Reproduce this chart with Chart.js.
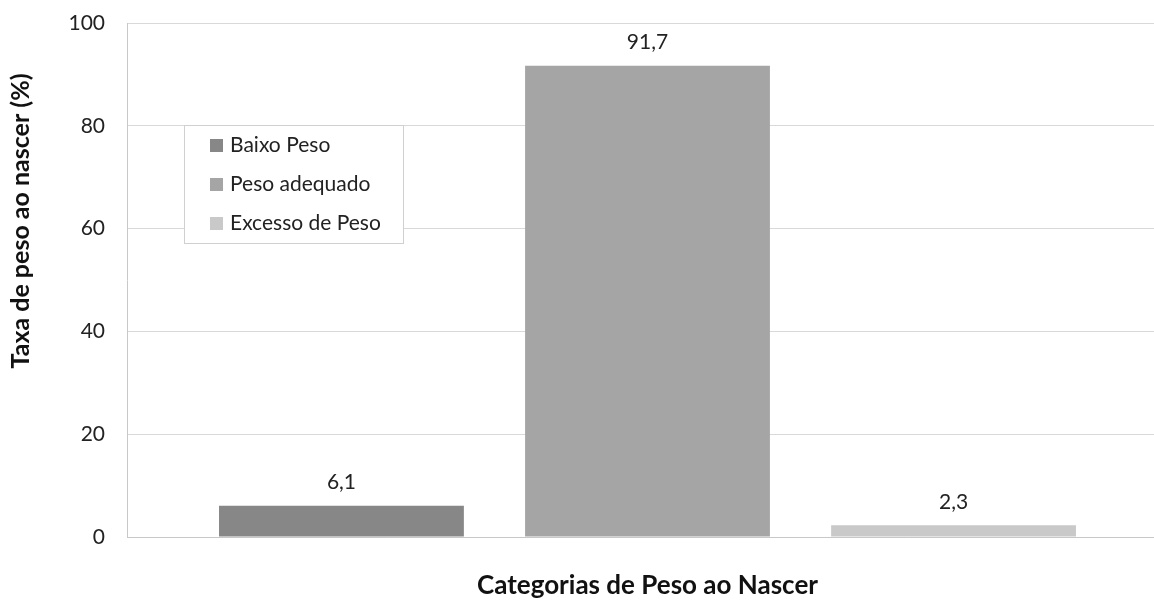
<!DOCTYPE html>
<html>
<head>
<meta charset="utf-8">
<script src="https://cdn.jsdelivr.net/npm/chart.js@4"></script>
<style>
  html, body { margin: 0; padding: 0; background: #fff; overflow: hidden; }
  #wrap { width: 1168px; height: 601px; }
</style>
</head>
<body>
<div id="wrap"><canvas id="pesoChart"></canvas></div>
<script>
// categories and rates (%)
var categorias = ['Baixo Peso', 'Peso adequado', 'Excesso de Peso'];
var taxas = [6.1, 91.7, 2.3];
var cores = ['#878787', '#a5a5a5', '#c9c9c9'];
var yTicks = [0, 20, 40, 60, 80, 100];
var tituloY = 'Taxa de peso ao nascer (%)';
var tituloX = 'Categorias de Peso ao Nascer';

var fonte = 'Lato, "Open Sans", sans-serif';

// one dataset per category so every bar gets its own legend entry
var datasets = categorias.map(function (c, i) {
    return {
        label: c,
        data: [taxas[i]],
        backgroundColor: cores[i],
        categoryPercentage: 0.882,
        barPercentage: 0.80
    };
});

// value above each bar, written with a comma
var rotulos = {
    id: 'rotulos',
    afterDatasetsDraw: function (chart) {
        var ctx = chart.ctx;
        ctx.save();
        ctx.font = '21px ' + fonte;
        ctx.fillStyle = '#222';
        ctx.textAlign = 'center';
        ctx.textBaseline = 'middle';
        chart.data.datasets.forEach(function (ds, i) {
            var bar = chart.getDatasetMeta(i).data[0];
            ctx.fillText(String(ds.data[0]).replace('.', ','), bar.x, bar.y - 23);
        });
        ctx.restore();
    }
};

// boxed legend inside the plot area, plus the vertical axis title
var legendaBox = {
    id: 'legendaBox',
    afterDraw: function (chart) {
        var ctx = chart.ctx;
        var x = 184, y = 125, w = 219, h = 118;
        ctx.save();
        ctx.fillStyle = '#fff';
        ctx.fillRect(x, y, w, h);
        ctx.strokeStyle = '#d0d0d0';
        ctx.lineWidth = 1;
        ctx.strokeRect(x + 0.5, y + 0.5, w, h);
        ctx.font = '21px ' + fonte;
        ctx.textBaseline = 'middle';
        chart.data.datasets.forEach(function (ds, i) {
            var cy = 145 + i * 39;
            ctx.fillStyle = ds.backgroundColor;
            ctx.fillRect(210, cy - 6, 13, 13);
            ctx.fillStyle = '#222';
            ctx.fillText(ds.label, 230, cy);
        });

        ctx.translate(21, 221);
        ctx.rotate(-Math.PI / 2);
        ctx.font = 'bold 25px ' + fonte;
        ctx.fillStyle = '#111';
        ctx.textAlign = 'center';
        ctx.fillText(tituloY, 0, 0);
        ctx.restore();
    }
};

new Chart(document.getElementById('pesoChart'), {
    type: 'bar',
    data: { labels: [''], datasets: datasets },
    options: {
        responsive: true,
        maintainAspectRatio: false,
        animation: false,
        layout: { padding: { top: 23, right: 0, bottom: 0, left: 0 } },
        plugins: {
            legend: { display: false },
            tooltip: { enabled: false }
        },
        scales: {
            x: {
                grid: { display: false, drawTicks: false },
                border: { color: '#c8c8c8' },
                ticks: { display: false },
                title: {
                    display: true,
                    text: tituloX,
                    color: '#111',
                    font: { family: fonte, size: 26, weight: 'bold' },
                    padding: { top: 30, bottom: 0 }
                },
                afterFit: function (scale) { scale.height = 64; }
            },
            y: {
                min: 0,
                max: 100,
                afterBuildTicks: function (scale) {
                    scale.ticks = yTicks.map(function (v) { return { value: v }; });
                },
                grid: { color: '#d9d9d9', drawTicks: false },
                border: { color: '#c8c8c8' },
                ticks: {
                    color: '#222',
                    padding: 22,
                    font: { family: fonte, size: 21 }
                },
                afterFit: function (scale) {
                    scale.width = 127;
                    scale.paddingTop = 0;
                    scale.paddingBottom = 0;
                }
            }
        }
    },
    plugins: [rotulos, legendaBox]
});
</script>
</body>
</html>
